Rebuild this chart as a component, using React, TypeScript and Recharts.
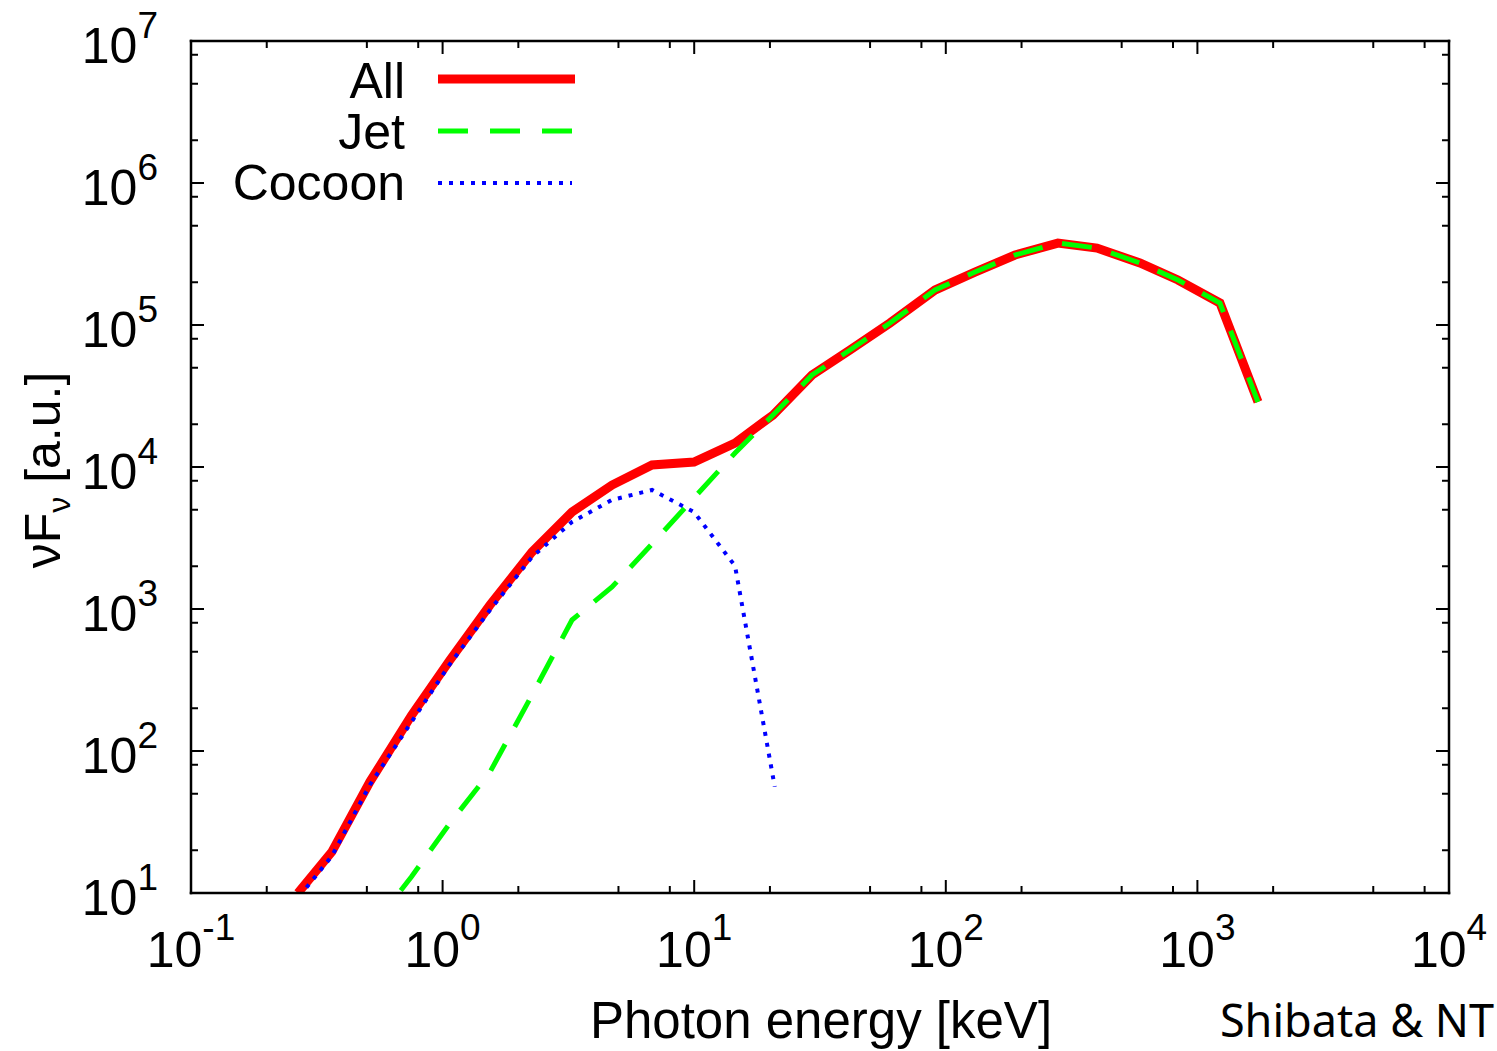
import React from 'react';
import { LineChart, Line, XAxis, YAxis } from 'recharts';

// ---- data (photon energy [keV], nuF_nu [a.u.]) ----
const energyAll = [0.266, 0.363, 0.514, 0.752, 1.07, 1.543, 2.266, 3.268, 4.713, 6.797, 9.98, 14.53, 20.57, 29.4, 41.6, 60.0, 90.6, 130.6, 188.4, 279, 399, 591, 837, 1229, 1741];
const fluxAll = [10, 19.5, 60.6, 178, 437, 1067, 2518, 4819, 7464, 10330, 10840, 14750, 23230, 44430, 66680, 103300, 176300, 236000, 311000, 377700, 348300, 273300, 207500, 142900, 28700];

const energyJet = [0.514, 0.752, 1.07, 1.543, 2.266, 3.268, 4.713, 6.797, 9.98, 14.53, 20.57, 29.4, 41.6, 60.0, 90.6, 130.6, 188.4, 279, 399, 591, 837, 1229, 1741];
const fluxJet = [5.5, 13.0, 31.1, 71.1, 247.7, 837, 1429, 2871, 6054, 12560, 23230, 44430, 66680, 103300, 176300, 236000, 311000, 377700, 348300, 273300, 207500, 142900, 28700];

const energyCocoon = [0.27, 0.363, 0.514, 0.752, 1.07, 1.543, 2.266, 3.268, 4.713, 6.797, 9.98, 14.53, 20.9];
const fluxCocoon = [9.5, 18.2, 57.7, 160, 410, 984, 2323, 4101, 5865, 6889, 4819, 2011, 56];

// ---- ticks ----
const xMajorTicks = [0.1, 1, 10, 100, 1000, 10000];
const xMajorLabels = ['-1', '0', '1', '2', '3', '4'];
const yMajorTicks = [10, 100, 1000, 10000, 100000, 1000000, 10000000];
const yMajorLabels = ['1', '2', '3', '4', '5', '6', '7'];
const minorFactors = [2, 5, 8];

const seriesNames = ['All', 'Jet', 'Cocoon'];
const seriesColors = ['#ff0000', '#00ff00', '#0000ff'];

const toPoints = (xs: number[], ys: number[]) => xs.map((x, i) => ({ x, y: ys[i] }));
const dataAll = toPoints(energyAll, fluxAll);
const dataJet = toPoints(energyJet, fluxJet);
const dataCocoon = toPoints(energyCocoon, fluxCocoon);

const withMinors = (majors: number[]) => {
  const out: number[] = [];
  majors.forEach((m, i) => {
    out.push(m);
    if (i < majors.length - 1) minorFactors.forEach((f) => out.push(+(m * f).toPrecision(6)));
  });
  return out;
};
const xTicks = withMinors(xMajorTicks);
const yTicks = withMinors(yMajorTicks);

const W = 1497;
const H = 1051;
const PLOT = { left: 191, top: 41, right: 1449, bottom: 893 };
const FONT = '"Liberation Sans", Arial, Helvetica, sans-serif';

const majorIndex = (v: number, majors: number[]) =>
  majors.findIndex((m) => Math.abs(m - v) / m < 1e-6);

const MAJOR_LEN = 13;
const MINOR_LEN = 7;

const BottomTick = (props: any) => {
  const { x, payload } = props;
  const y = PLOT.bottom;
  const idx = majorIndex(payload.value, xMajorTicks);
  const len = idx >= 0 ? MAJOR_LEN : MINOR_LEN;
  return (
    <g>
      <line x1={x} x2={x} y1={y} y2={y - len} stroke="#000" strokeWidth={2} />
      {idx >= 0 && (
        <text x={x} y={y + 74} textAnchor="middle" fontFamily={FONT} fontSize={50} fill="#000">
          10
          <tspan dy={-27} fontSize={37}>{xMajorLabels[idx]}</tspan>
        </text>
      )}
    </g>
  );
};

const TopTick = (props: any) => {
  const { x, payload } = props;
  const y = PLOT.top;
  const idx = majorIndex(payload.value, xMajorTicks);
  const len = idx >= 0 ? MAJOR_LEN : MINOR_LEN;
  return <line x1={x} x2={x} y1={y} y2={y + len} stroke="#000" strokeWidth={2} />;
};

const LeftTick = (props: any) => {
  const { y, payload } = props;
  const x = PLOT.left;
  const idx = majorIndex(payload.value, yMajorTicks);
  const len = idx >= 0 ? MAJOR_LEN : MINOR_LEN;
  return (
    <g>
      <line x1={x} x2={x + len} y1={y} y2={y} stroke="#000" strokeWidth={2} />
      {idx >= 0 && (
        <text x={x - 33} y={y + 22} textAnchor="end" fontFamily={FONT} fontSize={50} fill="#000">
          10
          <tspan dy={-25} fontSize={37}>{yMajorLabels[idx]}</tspan>
        </text>
      )}
    </g>
  );
};

const RightTick = (props: any) => {
  const { y, payload } = props;
  const x = PLOT.right;
  const idx = majorIndex(payload.value, yMajorTicks);
  const len = idx >= 0 ? MAJOR_LEN : MINOR_LEN;
  return <line x1={x} x2={x - len} y1={y} y2={y} stroke="#000" strokeWidth={2} />;
};

const axisLineStyle = { stroke: '#000', strokeWidth: 2.5, strokeLinecap: 'square' as const };

export default function App() {
  return (
    <div style={{ position: 'absolute', left: 0, top: 0, width: W, height: H, overflow: 'hidden', background: '#fff' }}>
      <LineChart
        width={W}
        height={H}
        margin={{ top: PLOT.top - 1, right: W - PLOT.right - 1, bottom: H - PLOT.bottom - 1, left: PLOT.left - 1 }}
      >
        <XAxis
          xAxisId="b"
          dataKey="x"
          type="number"
          scale="log"
          domain={[0.1, 10000]}
          allowDataOverflow
          ticks={xTicks}
          interval={0}
          orientation="bottom"
          height={1}
          tickSize={0}
          tickMargin={0}
          tickLine={false}
          axisLine={axisLineStyle}
          tick={<BottomTick />}
        />
        <XAxis
          xAxisId="t"
          dataKey="x"
          type="number"
          scale="log"
          domain={[0.1, 10000]}
          allowDataOverflow
          ticks={xTicks}
          interval={0}
          orientation="top"
          height={1}
          tickSize={0}
          tickMargin={0}
          tickLine={false}
          axisLine={axisLineStyle}
          tick={<TopTick />}
        />
        <YAxis
          yAxisId="l"
          dataKey="y"
          type="number"
          scale="log"
          domain={[10, 10000000]}
          allowDataOverflow
          ticks={yTicks}
          interval={0}
          orientation="left"
          width={1}
          tickSize={0}
          tickMargin={0}
          tickLine={false}
          axisLine={axisLineStyle}
          tick={<LeftTick />}
        />
        <YAxis
          yAxisId="r"
          dataKey="y"
          type="number"
          scale="log"
          domain={[10, 10000000]}
          allowDataOverflow
          ticks={yTicks}
          interval={0}
          orientation="right"
          width={1}
          tickSize={0}
          tickMargin={0}
          tickLine={false}
          axisLine={axisLineStyle}
          tick={<RightTick />}
        />
        <Line
          xAxisId="b"
          yAxisId="l"
          data={dataAll}
          dataKey="y"
          name={seriesNames[0]}
          type="linear"
          stroke={seriesColors[0]}
          strokeWidth={9}
          dot={false}
          activeDot={false}
          isAnimationActive={false}
        />
        <Line
          xAxisId="b"
          yAxisId="l"
          data={dataJet}
          dataKey="y"
          name={seriesNames[1]}
          type="linear"
          stroke={seriesColors[1]}
          strokeWidth={5}
          strokeDasharray="30 20"
          dot={false}
          activeDot={false}
          isAnimationActive={false}
        />
        <Line
          xAxisId="b"
          yAxisId="l"
          data={dataCocoon}
          dataKey="y"
          name={seriesNames[2]}
          type="linear"
          stroke={seriesColors[2]}
          strokeWidth={4}
          strokeDasharray="4 7"
          dot={false}
          activeDot={false}
          isAnimationActive={false}
        />
      </LineChart>
      <svg
        width={W}
        height={H}
        style={{ position: 'absolute', left: 0, top: 0, pointerEvents: 'none' }}
      >
        {/* legend */}
        <g fontFamily={FONT} fontSize={50} fill="#000">
          <text x={405} y={98} textAnchor="end">{seriesNames[0]}</text>
          <text x={405} y={149} textAnchor="end">{seriesNames[1]}</text>
          <text x={405} y={200} textAnchor="end">{seriesNames[2]}</text>
        </g>
        <line x1={438} x2={575} y1={79} y2={79} stroke={seriesColors[0]} strokeWidth={9} />
        <line x1={438} x2={572} y1={131} y2={131} stroke={seriesColors[1]} strokeWidth={5} strokeDasharray="30 22" />
        <line x1={438} x2={572} y1={183} y2={183} stroke={seriesColors[2]} strokeWidth={4} strokeDasharray="4 7" />
        {/* axis titles */}
        <text x={821} y={1038} textAnchor="middle" fontFamily={FONT} fontSize={51} fill="#000">
          Photon energy [keV]
        </text>
        <text
          transform="translate(60,470) rotate(-90)"
          textAnchor="middle"
          fontFamily={FONT}
          fontSize={50}
          fill="#000"
        >
          νF<tspan dy={10} fontSize={32}>ν</tspan>
          <tspan dy={-10}> [a.u.]</tspan>
        </text>
        {/* credit */}
        <text x={1494} y={1037} textAnchor="end" fontFamily='"Noto Sans", "Open Sans", sans-serif' fontSize={45} fill="#000">
          Shibata &amp; NT
        </text>
      </svg>
    </div>
  );
}
